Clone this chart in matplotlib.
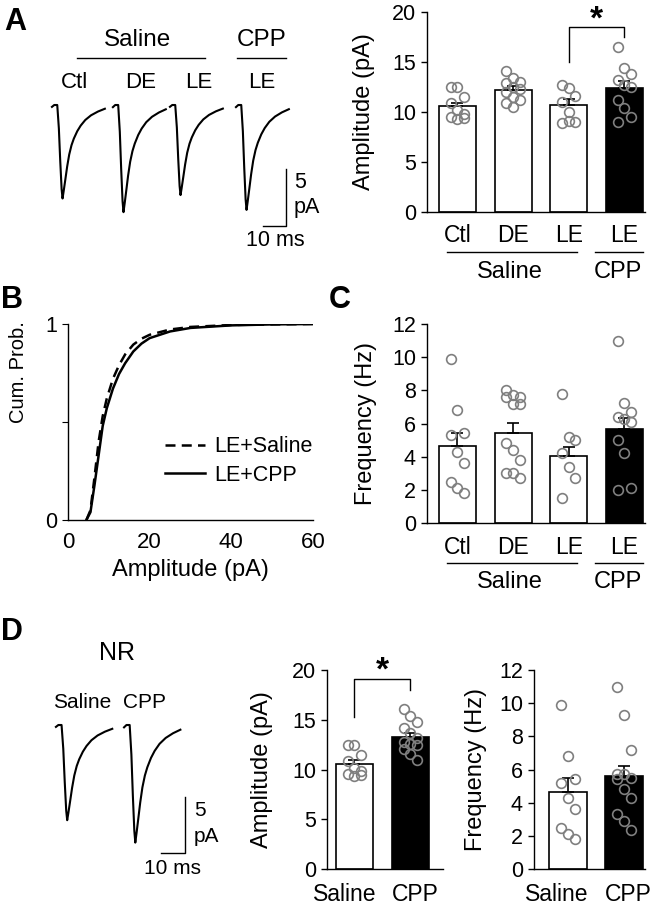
import numpy as np
import matplotlib
matplotlib.use("Agg")
import matplotlib.pyplot as plt
from matplotlib.lines import Line2D
from matplotlib.transforms import ScaledTranslation

plt.rcParams['font.family'] = ['Liberation Sans', 'DejaVu Sans']
plt.rcParams['axes.linewidth'] = 1.0

W, H = 656, 907

# === data ===
groups = ['Ctl', 'DE', 'LE', 'LE']
amp_mean = [10.6, 12.2, 10.7, 12.4]
amp_sem = [0.35, 0.4, 0.6, 0.7]
amp_pts = [
    [12.5, 12.5, 11.5, 10.9, 10.2, 9.8, 9.5, 9.3, 9.4],
    [14.1, 13.4, 13.0, 12.9, 12.5, 12.3, 12.0, 11.5, 11.2, 10.9, 10.5],
    [12.7, 12.4, 11.6, 11.0, 10.0, 9.0, 8.9, 9.1],
    [16.5, 14.4, 13.8, 13.2, 12.7, 12.5, 11.2, 10.4, 9.5, 9.0],
]
freq_mean = [4.65, 5.45, 4.05, 5.65]
freq_sem = [0.8, 0.6, 0.55, 0.7]
freq_pts = [
    [9.9, 6.8, 5.4, 5.3, 4.3, 3.6, 2.5, 2.1, 1.8],
    [8.0, 7.7, 7.6, 7.6, 7.2, 7.2, 4.8, 4.4, 3.8, 3.0, 3.0, 2.7],
    [7.8, 5.2, 5.0, 4.2, 3.4, 2.7, 1.5],
    [11.0, 7.25, 6.7, 6.4, 6.3, 6.1, 5.0, 4.25, 2.1, 2.0],
]

# cumulative distributions (amplitude pA, cum. prob.)
cdf_amp = [4.5, 5.5, 6.5, 7.5, 8.5, 9.5, 11, 12.5, 14, 16, 18, 20, 25, 30, 40, 50, 60]
cdf_saline = [0, 0.05, 0.22, 0.40, 0.53, 0.62, 0.72, 0.79, 0.845, 0.895, 0.925, 0.945,
              0.972, 0.985, 0.995, 0.998, 1.0]
cdf_cpp = [0, 0.04, 0.18, 0.33, 0.48, 0.57, 0.67, 0.745, 0.80, 0.86, 0.90, 0.928,
           0.962, 0.98, 0.993, 0.998, 1.0]

# NR panel
nr_groups = ['Saline', 'CPP']
nr_amp_mean = [10.6, 13.3]
nr_amp_sem = [0.35, 0.4]
nr_amp_pts = [
    [12.5, 12.5, 11.5, 10.9, 10.2, 9.8, 9.5, 9.3, 9.4],
    [16.1, 15.4, 14.8, 14.2, 13.7, 13.2, 12.8, 12.6, 12.5, 12.1, 11.6, 11.0],
]
nr_freq_mean = [4.65, 5.6]
nr_freq_sem = [0.85, 0.6]
nr_freq_pts = [
    [9.9, 6.8, 5.4, 5.2, 4.3, 3.6, 2.5, 2.1, 1.8],
    [11.0, 9.3, 7.15, 5.75, 5.7, 5.5, 5.4, 4.8, 4.3, 3.3, 2.9, 2.35],
]

# example mEPSC waveform (ms from start, fraction of peak)
wave_t = [0.0, 1.0, 2.3, 3.0, 3.6, 4.2, 4.6, 5.1, 5.8, 6.6, 7.5, 8.5, 9.5, 11, 12.5, 14.5, 17, 20, 23]
wave_f = [0.02, 0.0, 0.0, 0.25, 0.6, 0.9, 1.0, 0.92, 0.8, 0.66, 0.53, 0.43, 0.36, 0.28, 0.22,
          0.16, 0.11, 0.07, 0.04]
traceA_amp = [8.2, 9.4, 7.9, 9.2]   # pA
traceD_amp = [8.5, 10.5]


def box(l, t, r, b):
    return fig.add_axes([l / W, 1 - b / H, (r - l) / W, (b - t) / H])


def ftext(x, y, s, **kw):
    fig.text(x / W, 1 - y / H, s, **kw)


def fline(x0, x1, y):
    fig.add_artist(Line2D([x0 / W, x1 / W], [1 - y / H, 1 - y / H], color='black', lw=1.0))


def bar_panel(ax, means, sems, pts, colors, ylim, yticks):
    x = np.arange(len(means))
    ax.bar(x, means, width=0.665, color=colors, edgecolor='black', linewidth=1.2, zorder=1)
    ax.errorbar(x, means, yerr=[np.zeros(len(sems)), sems], fmt='none', ecolor='black',
                elinewidth=1.2, capsize=4, capthick=1.2, zorder=2)
    for i, vals in enumerate(pts):
        offs = [((k % 3) - 1) * 0.12 for k in range(len(vals))]
        ax.plot(i + np.array(offs), vals, 'o', mfc='none', mec='#7f7f7f', mew=1.2, ms=7,
                zorder=3, clip_on=False)
    ax.set_ylim(*ylim)
    ax.set_yticks(yticks)
    ax.spines[['top', 'right']].set_visible(False)
    ax.tick_params(axis='y', direction='out', length=4, width=1.0, labelsize=15.5, pad=4)
    ax.tick_params(axis='x', length=0, labelsize=16.5, pad=9)


def shift_labels(ax, dxs):
    for lbl, dx in zip(ax.get_xticklabels(), dxs):
        lbl.set_transform(lbl.get_transform() + ScaledTranslation(dx / 100, 0, fig.dpi_scale_trans))


def draw_trace(ax, t0, amp):
    ax.plot(t0 + np.array(wave_t), -amp * np.array(wave_f), color='black', lw=1.5)


fig = plt.figure(figsize=(W / 100, H / 100), dpi=100)

# ---------- A: traces ----------
axT = box(40, 95, 320, 250)
axT.set_xlim(0, 280 / 2.3)
axT.set_ylim(-145 / 11.4, 10 / 11.4)
axT.axis('off')
for t0, a in zip([5.2, 31.7, 56.5, 85.2], traceA_amp):
    draw_trace(axT, t0, a)
axT.plot([107, 107, 97], [-5.6, -10.6, -10.6], color='black', lw=1.0)

ftext(15, 22, 'A', fontsize=22, fontweight='bold', ha='center', va='center')
ftext(138, 40, 'Saline', fontsize=17.5, ha='center', va='center')
ftext(262, 40, 'CPP', fontsize=17.5, ha='center', va='center')
fline(77, 205, 58)
fline(237, 286, 58)
for xx, s in zip([74, 141, 199, 262], groups):
    ftext(xx, 82, s, fontsize=16, ha='center', va='center')
ftext(294, 182, '5', fontsize=15.5, ha='left', va='center')
ftext(294, 208, 'pA', fontsize=15.5, ha='left', va='center')
ftext(275, 240, '10 ms', fontsize=15.5, ha='center', va='center')

# ---------- A: amplitude bars ----------
axA = box(427, 12, 645, 212)
bar_panel(axA, amp_mean, amp_sem, amp_pts, ['white', 'white', 'white', 'black'],
          (0, 20), [0, 5, 10, 15, 20])
axA.set_xlim(-0.548, 3.37)
axA.set_xticks(range(4), groups)
axA.set_ylabel('Amplitude (pA)', fontsize=17)
axA.yaxis.set_label_coords(-0.24, 0.5)
axA.plot([2, 2, 3, 3], [15.0, 18.5, 18.5, 17.5], color='black', lw=1.0, clip_on=False)
axA.text(2.5, 19.2, '*', fontsize=24, fontweight='bold', ha='center', va='center')
fline(447, 577, 252)
fline(595, 643, 252)
ftext(510, 272, 'Saline', fontsize=17, ha='center', va='center')
ftext(618, 272, 'CPP', fontsize=17, ha='center', va='center')

# ---------- B: cumulative probability ----------
axB = box(68, 324, 313, 520)
axB.plot(cdf_amp, cdf_saline, color='black', lw=1.8, ls=(0, (4, 2.5)), label='LE+Saline')
axB.plot(cdf_amp, cdf_cpp, color='black', lw=1.8, label='LE+CPP')
axB.set_xlim(0, 60)
axB.set_ylim(0, 1)
axB.set_xticks([0, 20, 40, 60])
axB.set_yticks([0, 0.5, 1], ['0', '', '1'])
axB.spines[['top', 'right']].set_visible(False)
axB.tick_params(axis='y', direction='out', length=4, labelsize=15.5, pad=4)
axB.tick_params(axis='x', length=0, labelsize=16, pad=9)
axB.set_xlabel('Amplitude (pA)', fontsize=17)
axB.xaxis.set_label_coords(0.5, -0.2)
axB.set_ylabel('Cum. Prob.', fontsize=14.5)
axB.yaxis.set_label_coords(-0.165, 0.755)
axB.legend(loc='center left', bbox_to_anchor=(0.35, 0.3), frameon=False, fontsize=15.5,
           handlelength=1.9, handletextpad=0.4, labelspacing=0.35, borderpad=0.0)
ftext(12, 300, 'B', fontsize=22, fontweight='bold', ha='center', va='center')

# ---------- C: frequency bars ----------
axC = box(427, 324, 645, 523)
bar_panel(axC, freq_mean, freq_sem, freq_pts, ['white', 'white', 'white', 'black'],
          (0, 12), [0, 2, 4, 6, 8, 10, 12])
axC.set_xlim(-0.548, 3.37)
axC.set_xticks(range(4), groups)
axC.set_ylabel('Frequency (Hz)', fontsize=17)
axC.yaxis.set_label_coords(-0.23, 0.5)
fline(447, 577, 563)
fline(595, 643, 563)
ftext(510, 582, 'Saline', fontsize=17, ha='center', va='center')
ftext(618, 582, 'CPP', fontsize=17, ha='center', va='center')
ftext(340, 300, 'C', fontsize=22, fontweight='bold', ha='center', va='center')

# ---------- D: traces ----------
axTD = box(40, 715, 230, 880)
axTD.set_xlim(0, 190 / 2.45)
axTD.set_ylim(-155 / 11.2, 10 / 11.2)
axTD.axis('off')
for t0, a in zip([6.5, 34.3], traceD_amp):
    draw_trace(axTD, t0, a)
axTD.plot([59.2, 59.2, 49.2], [-6.43, -11.43, -11.43], color='black', lw=1.0)
ftext(12, 632, 'D', fontsize=22, fontweight='bold', ha='center', va='center')
ftext(117, 653, 'NR', fontsize=18, ha='center', va='center')
ftext(82, 702, 'Saline', fontsize=15, ha='center', va='center')
ftext(145, 702, 'CPP', fontsize=15, ha='center', va='center')
ftext(194, 811, '5', fontsize=15, ha='left', va='center')
ftext(194, 836, 'pA', fontsize=15, ha='left', va='center')
ftext(173, 868, '10 ms', fontsize=15, ha='center', va='center')

# ---------- D: amplitude ----------
axDA = box(327, 670, 443, 869)
bar_panel(axDA, nr_amp_mean, nr_amp_sem, nr_amp_pts, ['white', 'black'],
          (0, 20), [0, 5, 10, 15, 20])
axDA.set_xlim(-0.49, 1.58)
axDA.set_xticks(range(2), nr_groups)
axDA.tick_params(axis='x', pad=10, labelsize=16.5)
shift_labels(axDA, [-10, 5])
axDA.set_ylabel('Amplitude (pA)', fontsize=17)
axDA.yaxis.set_label_coords(-0.466, 0.5)
axDA.plot([0, 0, 1, 1], [15.3, 19.1, 19.1, 18.0], color='black', lw=1.0, clip_on=False)
axDA.text(0.5, 19.9, '*', fontsize=24, fontweight='bold', ha='center', va='center')

# ---------- D: frequency ----------
axDF = box(534, 670, 645, 869)
bar_panel(axDF, nr_freq_mean, nr_freq_sem, nr_freq_pts, ['white', 'black'],
          (0, 12), [0, 2, 4, 6, 8, 10, 12])
axDF.set_xlim(-0.607, 1.375)
axDF.set_xticks(range(2), nr_groups)
axDF.tick_params(axis='x', pad=10, labelsize=16.5)
shift_labels(axDF, [-11, 4])
axDF.set_ylabel('Frequency (Hz)', fontsize=17)
axDF.yaxis.set_label_coords(-0.42, 0.5)

fig.savefig('out.png', dpi=100)
